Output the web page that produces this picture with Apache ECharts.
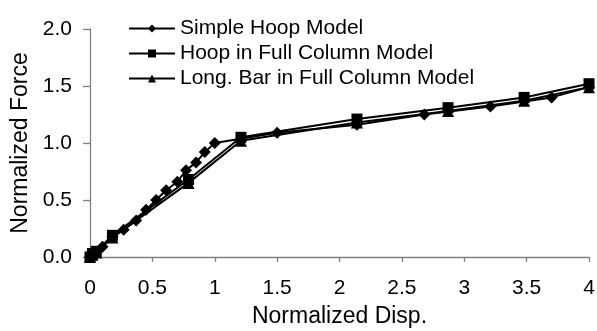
<!DOCTYPE html>
<html>
<head>
<meta charset="utf-8">
<script src="https://cdn.jsdelivr.net/npm/echarts@6/dist/echarts.min.js"></script>
<style>
  html, body { margin: 0; padding: 0; background: #fff; }
  #chart { width: 597px; height: 331px; }
</style>
</head>
<body>
<div id="chart"></div>
<script>
// series names
const seriesNames = ["Simple Hoop Model", "Hoop in Full Column Model", "Long. Bar in Full Column Model"];

// Simple Hoop Model (diamonds)
const simpleX = [0, 0.02, 0.05, 0.10, 0.18, 0.27, 0.37, 0.45, 0.53, 0.61, 0.70, 0.77, 0.85, 0.92, 1.00, 1.50, 2.14, 2.68, 3.21, 3.70, 4.00];
const simpleY = [0, 0.02, 0.04, 0.09, 0.18, 0.24, 0.32, 0.415, 0.50, 0.585, 0.66, 0.76, 0.83, 0.92, 1.00, 1.09, 1.16, 1.25, 1.32, 1.40, 1.49];

// Hoop in Full Column Model (squares)
const hoopX = [0, 0.02, 0.05, 0.18, 0.79, 1.21, 2.14, 2.87, 3.48, 4.00];
const hoopY = [0, 0.03, 0.05, 0.19, 0.68, 1.05, 1.21, 1.31, 1.40, 1.52];

// Long. Bar in Full Column Model (triangles)
const barX = [0, 0.02, 0.05, 0.18, 0.79, 1.21, 2.14, 2.87, 3.48, 4.00];
const barY = [0, 0.02, 0.04, 0.17, 0.65, 1.02, 1.18, 1.28, 1.37, 1.49];

const xTicks = [0, 0.5, 1, 1.5, 2, 2.5, 3, 3.5, 4];
const yTicks = [0, 0.5, 1.0, 1.5, 2.0];

function pairs(xs, ys) {
  return xs.map((x, i) => [x, ys[i]]);
}

const font = "'Liberation Sans', Arial, sans-serif";
const axisGray = "#808080";

const chart = echarts.init(document.getElementById("chart"), null, { renderer: "canvas" });

function lineSeries(name, data, symbol, size) {
  return {
    name: name,
    type: "line",
    data: data,
    symbol: symbol,
    symbolSize: size,
    showAllSymbol: true,
    lineStyle: { color: "#000", width: 2 },
    itemStyle: { color: "#000" },
    animation: false
  };
}

chart.setOption({
  backgroundColor: "#fff",
  textStyle: { fontFamily: font, color: "#000" },
  grid: {
    left: 90, right: 8, top: 29, bottom: 74,
    containLabel: false,
    outerBoundsMode: "none"
  },
  legend: {
    orient: "vertical",
    left: 123,
    top: 13,
    itemWidth: 46,
    itemHeight: 10,
    itemGap: 4,
    data: seriesNames,
    textStyle: { fontFamily: font, fontSize: 21, color: "#000", lineHeight: 21 }
  },
  xAxis: {
    type: "value",
    min: xTicks[0],
    max: xTicks[xTicks.length - 1],
    interval: 0.5,
    name: "Normalized Disp.",
    nameLocation: "middle",
    nameGap: 48,
    nameTextStyle: { fontFamily: font, fontSize: 23, color: "#000" },
    axisLine: { lineStyle: { color: axisGray, width: 1.3 } },
    axisTick: { show: true, inside: false, length: 5, lineStyle: { color: axisGray, width: 1.3 } },
    axisLabel: { fontFamily: font, fontSize: 21, color: "#000", margin: 21 },
    splitLine: { show: false }
  },
  yAxis: {
    type: "value",
    min: yTicks[0],
    max: yTicks[yTicks.length - 1],
    interval: 0.5,
    name: "Normalized Force",
    nameLocation: "middle",
    nameGap: 58,
    nameTextStyle: { fontFamily: font, fontSize: 23, color: "#000" },
    axisLine: { show: true, lineStyle: { color: axisGray, width: 1.3 } },
    axisTick: { show: true, inside: false, length: 7, lineStyle: { color: axisGray, width: 1.3 } },
    axisLabel: {
      fontFamily: font, fontSize: 21, color: "#000", margin: 18,
      formatter: v => v.toFixed(1)
    },
    splitLine: { show: false }
  },
  series: [
    lineSeries(seriesNames[0], pairs(simpleX, simpleY), "diamond", 12),
    lineSeries(seriesNames[1], pairs(hoopX, hoopY), "rect", 11),
    lineSeries(seriesNames[2], pairs(barX, barY), "triangle", 12)
  ]
});
</script>
</body>
</html>
